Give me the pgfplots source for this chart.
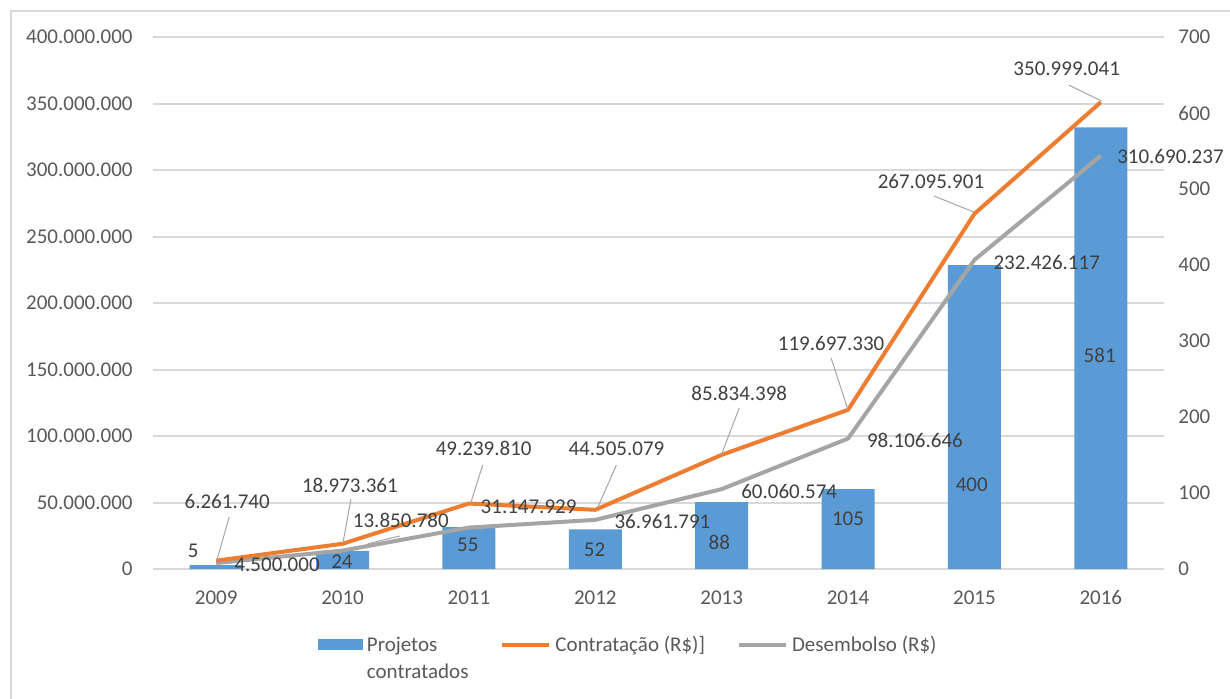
\documentclass[border=0pt]{standalone}
\usepackage{fontspec}
\setmainfont{Carlito}
\usepackage{pgfplots}
\usepackage{pgfplotstable}
\pgfplotsset{compat=1.18}
\definecolor{barblue}{HTML}{5B9BD5}
\definecolor{lineorange}{HTML}{ED7D31}
\definecolor{linegray}{HTML}{A5A5A5}
\definecolor{gridgray}{HTML}{D9D9D9}
\definecolor{ticktext}{HTML}{595959}
\definecolor{labeltext}{HTML}{404040}
\definecolor{leadergray}{HTML}{A6A6A6}

\pgfplotstableread{
x proj contr desemb
0 5 6261740 4500000
1 24 18973361 13850780
2 55 49239810 31147929
3 52 44505079 36961791
4 88 85834398 60060574
5 105 119697330 98106646
6 400 267095901 232426117
7 581 350999041 310690237
}\datatable

\pgfplotsset{
  base/.style={
    at={(76.5pt,64.5pt)}, anchor=south west,
    scale only axis, width=505.5pt, height=266pt,
    xmin=-0.5, xmax=7.5,
    font=\fontsize{10.5}{12.6}\selectfont,
    major tick length=0pt,
    /pgf/number format/assume math mode=true,
  },
}
\tikzset{
  lbl/.style={labeltext, inner sep=0pt, anchor=center, font=\fontsize{10.5}{12.6}\selectfont},
  leader/.style={leadergray, line width=0.5pt},
}

\begin{document}
\begin{tikzpicture}
\path[use as bounding box] (0,0) rectangle (615pt,349pt);
\draw[gridgray, line width=1pt] (5.5pt,-20pt) rectangle (640pt,343.5pt);

% Axis 1: left scale, grid and x labels
\begin{axis}[base,
  ymin=0, ymax=400000000,
  ytick={0,50000000,100000000,150000000,200000000,250000000,300000000,350000000,400000000},
  scaled y ticks=false,
  /pgf/number format/fixed,
  /pgf/number format/precision=0,
  /pgf/number format/1000 sep={.},
  yticklabel style={ticktext, anchor=east, inner sep=0pt, xshift=-10pt},
  xtick={0,1,2,3,4,5,6,7},
  xticklabels={2009,2010,2011,2012,2013,2014,2015,2016},
  xticklabel style={ticktext, anchor=base, inner sep=0pt, yshift=-17.75pt},
  axis x line*=bottom, axis y line*=left,
  x axis line style={gridgray, line width=1pt, -},
  y axis line style={draw=none},
  ymajorgrids, grid style={gridgray, line width=1pt},
]
\addplot[draw=none] coordinates {(0,0)};
\end{axis}

% Axis 2: right scale, bars
\begin{axis}[base,
  ymin=0, ymax=700,
  ytick={0,100,200,300,400,500,600,700},
  yticklabel style={ticktext, anchor=west, inner sep=0pt, xshift=7pt},
  axis y line*=right, axis x line=none,
  y axis line style={draw=none},
  ybar, bar width=26.5pt,
]
\addplot[fill=barblue, draw=none] table[x=x, y=proj] {\datatable};
\end{axis}

% Axis 3: left scale, lines, labels, legend
\begin{axis}[base,
  ymin=0, ymax=400000000,
  hide axis, clip=false,
  legend columns=3,
  legend style={draw=none, fill=none, at={(0.157,-0.111)}, anchor=north west,
    font=\fontsize{10.5}{13.5}\selectfont, text=ticktext,
    cells={anchor=base west},
    /tikz/every even column/.append style={column sep=14pt}},
]
\addlegendimage{legend image code/.code={\fill[barblue] (0pt,1pt) rectangle (22pt,6pt);}}
\addlegendentry{\vtop{\hbox{Projetos}\hbox{contratados}}}
\addplot[linegray, line width=2pt, line join=round, forget plot] table[x=x, y=desemb] {\datatable};
\addplot[lineorange, line width=2pt, line join=round,
  legend image code/.code={\draw[lineorange, line width=2pt] (0pt,3.5pt) -- (23.5pt,3.5pt);}]
  table[x=x, y=contr] {\datatable};
\addlegendentry{Contratação (R\$)]}
\addlegendimage{legend image code/.code={\draw[linegray, line width=2pt] (0pt,3.5pt) -- (23.5pt,3.5pt);}}
\addlegendentry{Desembolso (R\$)}

% leader lines
\draw[leader] (axis cs:0.103,39.1e6) -- (axis cs:0.008,7.5e6);
\draw[leader] (axis cs:1.066,52.6e6) -- (axis cs:1.003,19.5e6);
\draw[leader] (axis cs:2.109,78.2e6) -- (axis cs:2.014,49.6e6);
\draw[leader] (axis cs:3.167,78.2e6) -- (axis cs:3.017,45.9e6);
\draw[leader] (axis cs:4.139,121.1e6) -- (axis cs:3.997,85.7e6);
\draw[leader] (axis cs:4.866,158.6e6) -- (axis cs:5.0,119.5e6);
\draw[leader] (axis cs:5.679,280.5e6) -- (axis cs:5.995,268.4e6);
\draw[leader] (axis cs:6.746,363.9e6) -- (axis cs:7.006,351.9e6);
\draw[leader] (axis cs:1.453,24.8e6) -- (axis cs:1.20,19.0e6);

% Contratação labels
\node[lbl] at (axis cs:0.087,50.4e6) {6.261.740};
\node[lbl] at (axis cs:1.058,63.2e6) {18.973.361};
\node[lbl] at (axis cs:2.117,91.0e6) {49.239.810};
\node[lbl] at (axis cs:3.167,90.2e6) {44.505.079};
\node[lbl] at (axis cs:4.139,132.3e6) {85.834.398};
\node[lbl] at (axis cs:4.866,169.9e6) {119.697.330};
\node[lbl] at (axis cs:5.656,291.0e6) {267.095.901};
\node[lbl] at (axis cs:6.730,375.9e6) {350.999.041};

% Desembolso labels
\node[lbl] at (axis cs:0.482,3.0e6) {4.500.000};
\node[lbl] at (axis cs:1.461,36.8e6) {13.850.780};
\node[lbl] at (axis cs:2.472,46.6e6) {31.147.929};
\node[lbl] at (axis cs:3.531,36.1e6) {36.961.791};
\node[lbl] at (axis cs:4.534,58.6e6) {60.060.574};
\node[lbl] at (axis cs:5.529,97.0e6) {98.106.646};
\node[lbl] at (axis cs:6.572,230.8e6) {232.426.117};
\node[lbl] at (axis cs:7.551,309.8e6) {310.690.237};

% Projetos labels
\node[lbl] at (axis cs:-0.182,13.5e6) {5};
\node[lbl] at (axis cs:0.995,5.3e6) {24};
\node[lbl] at (axis cs:1.991,18.0e6) {55};
\node[lbl] at (axis cs:2.994,14.3e6) {52};
\node[lbl] at (axis cs:3.981,20.3e6) {88};
\node[lbl] at (axis cs:5.0,37.6e6) {105};
\node[lbl] at (axis cs:5.979,63.2e6) {400};
\node[lbl] at (axis cs:6.991,160.9e6) {581};
\end{axis}
\end{tikzpicture}
\end{document}
